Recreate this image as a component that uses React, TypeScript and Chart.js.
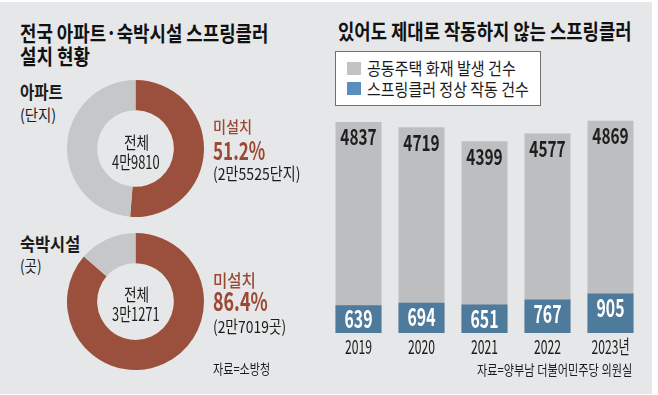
import React, { useEffect, useLayoutEffect, useRef, useState } from 'react';
import { Chart, registerables } from 'chart.js';
Chart.register(...registerables);

const FONT = '"Noto Sans CJK KR", "Noto Sans", sans-serif';

// ---- data ----
const years = ['2019', '2020', '2021', '2022', '2023년'];
const fireCounts = [4837, 4719, 4399, 4577, 4869];
const sprinklerCounts = [639, 694, 651, 767, 905];
const seriesLabels = ['공동주택 화재 발생 건수', '스프링클러 정상 작동 건수'];

const donutLabels = ['미설치', '설치'];
const aptValues = [25525, 24285];
const lodgingValues = [27019, 4252];

// ---- colors ----
const BG = '#e6e7e8';
const RED = '#9a503c';
const RED_TEXT = '#9b4934';
const DONUT_GRAY = '#c6c7c9';
const BAR_GRAY = '#bdbec0';
const BAR_BLUE = '#4e7b9c';
const LEG_GRAY = '#c2c3c5';
const LEG_BLUE = '#5b8ebd';
const INK = '#1b1b1b';

type FitProps = {
  text: string; x: number; y: number; w: number; size: number;
  align?: 'left' | 'center' | 'right'; weight?: number; color?: string;
};

function Fit({ text, x, y, w, size, align = 'left', weight = 400, color = INK }: FitProps) {
  const ref = useRef<HTMLSpanElement>(null);
  const [s, setS] = useState(1);
  useLayoutEffect(() => {
    const m = () => {
      const el = ref.current;
      if (!el) return;
      const nw = el.offsetWidth;
      if (nw) setS(w / nw);
    };
    m();
    const f: any = (document as any).fonts;
    if (f && f.ready) f.ready.then(m);
  }, [text, w, size]);
  const left = align === 'left' ? x : align === 'center' ? x - w / 2 : x - w;
  return (
    <div style={{ position: 'absolute', left, top: y, width: w, height: 0 }}>
      <span
        ref={ref}
        style={{
          position: 'absolute', left: 0, top: 0, whiteSpace: 'nowrap',
          fontSize: size, fontWeight: weight, color, lineHeight: 1, fontFamily: FONT,
          transform: `translateY(-50%) scaleX(${s})`, transformOrigin: '0 0',
        }}
      >
        {text}
      </span>
    </div>
  );
}

function Donut({ values, left, top, size }: { values: number[]; left: number; top: number; size: number }) {
  const ref = useRef<HTMLCanvasElement>(null);
  useEffect(() => {
    const chart = new Chart(ref.current as HTMLCanvasElement, {
      type: 'doughnut',
      data: {
        labels: donutLabels,
        datasets: [{ data: values, backgroundColor: [RED, DONUT_GRAY], borderWidth: 0, hoverOffset: 0, offset: 0 }],
      },
      options: {
        animation: false,
        responsive: false,
        cutout: '56%',
        events: [],
        plugins: { legend: { display: false }, tooltip: { enabled: false } },
      },
    } as any);
    return () => chart.destroy();
  }, []);
  return (
    <canvas ref={ref} width={size} height={size}
      style={{ position: 'absolute', left, top, width: size, height: size }} />
  );
}

function drawText(ctx: CanvasRenderingContext2D, text: string, x: number, y: number, font: string, color: string, sx: number) {
  ctx.save();
  ctx.translate(x, y);
  ctx.scale(sx, 1);
  ctx.font = font;
  ctx.fillStyle = color;
  ctx.textAlign = 'center';
  ctx.textBaseline = 'middle';
  ctx.fillText(text, 0, 0);
  ctx.restore();
}

const barLabelPlugin = {
  id: 'barLabels',
  afterDatasetsDraw(chart: any) {
    const ctx = chart.ctx as CanvasRenderingContext2D;
    const blueMeta = chart.getDatasetMeta(0);
    const grayMeta = chart.getDatasetMeta(1);
    const area = chart.chartArea;
    grayMeta.data.forEach((bar: any, i: number) => {
      drawText(ctx, String(fireCounts[i]), bar.x, bar.y + 15, `bold 22px ${FONT}`, '#1e1e1e', 0.7);
    });
    blueMeta.data.forEach((bar: any, i: number) => {
      drawText(ctx, String(sprinklerCounts[i]), bar.x, bar.y + 14, `bold 24px ${FONT}`, '#ffffff', 0.66);
    });
    const xs = chart.scales.x;
    years.forEach((yr, i) => {
      drawText(ctx, yr, xs.getPixelForValue(i), area.bottom + 14, `19px ${FONT}`, INK, 0.64);
    });
  },
};

function Bars() {
  const ref = useRef<HTMLCanvasElement>(null);
  useEffect(() => {
    const chart = new Chart(ref.current as HTMLCanvasElement, {
      type: 'bar',
      data: {
        labels: years,
        datasets: [
          {
            label: seriesLabels[1], data: sprinklerCounts, backgroundColor: BAR_BLUE,
            grouped: false, order: 0, barPercentage: 0.73, categoryPercentage: 1, borderWidth: 0,
          },
          {
            label: seriesLabels[0], data: fireCounts, backgroundColor: BAR_GRAY,
            grouped: false, order: 1, barPercentage: 0.73, categoryPercentage: 1, borderWidth: 0,
          },
        ],
      },
      options: {
        animation: false,
        responsive: false,
        events: [],
        layout: { padding: { left: 0, right: 0, top: 0, bottom: 40 } },
        scales: {
          x: { display: false },
          y: { display: false, min: 0, max: 5000 },
        },
        plugins: { legend: { display: false }, tooltip: { enabled: false } },
      },
      plugins: [barLabelPlugin],
    } as any);
    return () => chart.destroy();
  }, []);
  return (
    <canvas ref={ref} width={315} height={258}
      style={{ position: 'absolute', left: 327, top: 115, width: 315, height: 258 }} />
  );
}

export default function App() {
  return (
    <div style={{ position: 'fixed', left: 0, top: 0, width: 658, height: 395, background: '#fff', overflow: 'hidden', fontFamily: FONT }}>
      <div style={{ position: 'absolute', left: 0, top: 2, width: 652, height: 392, background: BG }} />

      {/* left titles */}
      <Fit text="전국 아파트·숙박시설 스프링클러" x={20} y={32} w={248} size={21} weight={700} color="#111" />
      <Fit text="설치 현황" x={20} y={55} w={70} size={21} weight={700} color="#111" />

      {/* apartment */}
      <Fit text="아파트" x={20} y={91} w={43} size={18} weight={700} />
      <Fit text="(단지)" x={20} y={113.5} w={36} size={16} />
      <Donut values={aptValues} left={67} top={80} size={137} />
      <Fit text="전체" x={136} y={141} w={25} size={17} align="center" />
      <Fit text="4만9810" x={136} y={160.5} w={48} size={18} align="center" />
      <Fit text="미설치" x={213} y={126} w={39} size={16} weight={500} color={RED_TEXT} />
      <Fit text="51.2%" x={213} y={148.5} w={52} size={25} weight={700} color={RED_TEXT} />
      <Fit text="(2만5525단지)" x={213} y={173} w={87} size={16.5} />

      {/* lodging */}
      <Fit text="숙박시설" x={20} y={242.5} w={60} size={18} weight={700} />
      <Fit text="(곳)" x={20} y={265} w={22} size={16} />
      <Donut values={lodgingValues} left={67} top={233} size={137} />
      <Fit text="전체" x={136} y={292.5} w={25} size={17} align="center" />
      <Fit text="3만1271" x={136} y={312.5} w={48} size={18} align="center" />
      <Fit text="미설치" x={213} y={279} w={43} size={17} weight={500} color={RED_TEXT} />
      <Fit text="86.4%" x={213} y={300} w={55} size={26} weight={700} color={RED_TEXT} />
      <Fit text="(2만7019곳)" x={213} y={326} w={73} size={16.5} />
      <Fit text="자료=소방청" x={213} y={368} w={57} size={14} />

      {/* right */}
      <Fit text="있어도 제대로 작동하지 않는 스프링클러" x={338} y={30} w={294} size={21} weight={700} color="#111" />
      <div style={{ position: 'absolute', left: 335, top: 51, width: 206, height: 55, background: '#fff', border: '1px solid #707070', boxSizing: 'border-box' }} />
      <div style={{ position: 'absolute', left: 347, top: 62, width: 14, height: 13, background: LEG_GRAY }} />
      <div style={{ position: 'absolute', left: 347, top: 82, width: 14, height: 13, background: LEG_BLUE }} />
      <Fit text={seriesLabels[0]} x={367} y={67.5} w={149} size={17.5} />
      <Fit text={seriesLabels[1]} x={367} y={88.5} w={162} size={17.5} />
      <Bars />
      <Fit text="자료=양부남 더불어민주당 의원실" x={632} y={369} w={155} size={14} align="right" />
    </div>
  );
}
